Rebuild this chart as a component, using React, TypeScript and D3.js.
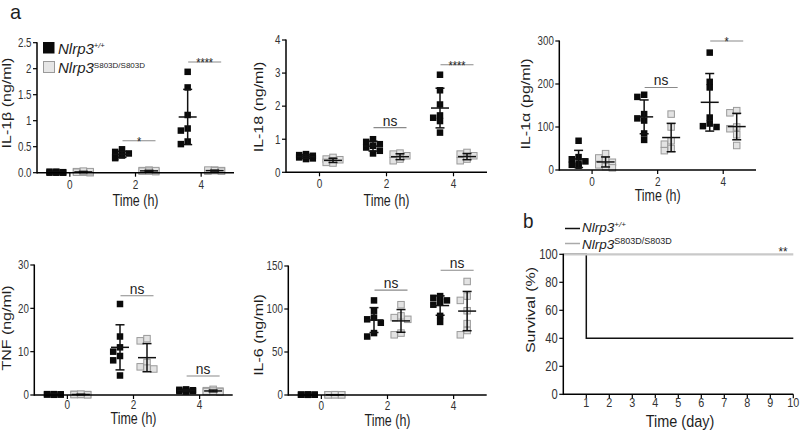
import React from "react";
import * as d3 from "d3";

// ---------- DATA ----------
const timeCats = ["0", "2", "4"];
const groups = ["wt", "ki"];

// IL-1β (ng/ml)
const il1bWt = [
  [0.0, 0.01, 0.02, 0.0, 0.01, 0.0, 0.02],
  [0.45, 0.4, 0.37, 0.35, 0.33, 0.3, 0.28],
  [1.94, 1.64, 1.11, 0.85, 0.81, 0.6, 0.55],
];
const il1bKi = [
  [0.02, 0.01, 0.0, 0.03, 0.01, 0.02],
  [0.05, 0.04, 0.03, 0.02, 0.04, 0.03],
  [0.05, 0.04, 0.03, 0.04, 0.05, 0.03],
];
const il1bTicks = [0, 0.5, 1, 1.5, 2, 2.5];
const il1bTickLabels = ["0.0", "0.5", "1", "1.5", "2", "2.5"];
const il1bSigCats = ["2", "4"];
const il1bSigLabels = ["*", "****"];
const il1bSigLevels = [0.615, 2.13];

// IL-18 (ng/ml)
const il18Wt = [
  [0.55, 0.52, 0.5, 0.48, 0.45, 0.42, 0.4],
  [1.0, 0.92, 0.85, 0.8, 0.75, 0.65, 0.57],
  [2.95, 2.48, 2.05, 1.72, 1.65, 1.55, 1.2],
];
const il18Ki = [
  [0.45, 0.4, 0.38, 0.35, 0.3, 0.28],
  [0.58, 0.55, 0.5, 0.45, 0.4, 0.35],
  [0.6, 0.55, 0.5, 0.45, 0.4, 0.35],
];
const il18Ticks = [0, 1, 2, 3, 4];
const il18TickLabels = ["0", "1", "2", "3", "4"];
const il18SigCats = ["2", "4"];
const il18SigLabels = ["ns", "****"];
const il18SigLevels = [1.35, 3.25];

// IL-1α (pg/ml)
const il1aWt = [
  [68, 30, 25, 20, 15, 12, 10],
  [175, 170, 130, 120, 115, 85, 70],
  [273, 205, 192, 122, 108, 102, 100],
];
const il1aKi = [
  [38, 28, 22, 18, 12, 8, 5],
  [130, 100, 68, 60, 50, 45],
  [138, 133, 100, 96, 82, 57],
];
const il1aTicks = [0, 100, 200, 300];
const il1aTickLabels = ["0", "100", "200", "300"];
const il1aSigCats = ["2", "4"];
const il1aSigLabels = ["ns", "*"];
const il1aSigLevels = [192, 300];

// TNF (ng/ml)
const tnfWt = [
  [0.2, 0.1, 0.15, 0.1, 0.05, 0.2, 0.1],
  [21, 13.5, 11, 10, 9, 8, 4.5],
  [1.3, 1.2, 1.1, 1.0, 0.9, 0.9, 0.8],
];
const tnfKi = [
  [0.1, 0.15, 0.05, 0.1, 0.2, 0.1],
  [13, 12.5, 7.5, 6.5, 6, 6.2],
  [1.3, 1.0, 0.9, 0.8, 0.7, 0.9],
];
const tnfTicks = [0, 10, 20, 30];
const tnfTickLabels = ["0", "10", "20", "30"];
const tnfSigCats = ["2", "4"];
const tnfSigLabels = ["ns", "ns"];
const tnfSigLevels = [22.9, 4.4];

// IL-6 (ng/ml)
const il6Wt = [
  [0.5, 0.3, 0.4, 0.2, 0.3, 0.4, 0.5],
  [110, 98, 90, 88, 84, 72, 68],
  [115, 113, 110, 108, 105, 92, 85],
];
const il6Ki = [
  [0.3, 0.2, 0.4, 0.3, 0.2, 0.3],
  [105, 92, 90, 88, 72, 70],
  [132, 115, 110, 98, 83, 75, 70],
];
const il6Ticks = [0, 50, 100, 150];
const il6TickLabels = ["0", "50", "100", "150"];
const il6SigCats = ["2", "4"];
const il6SigLabels = ["ns", "ns"];
const il6SigLevels = [122, 145];

// Survival
const survDays = [0, 1, 10];
const survWt = [100, 40, 40];
const survKi = [100, 100, 100];
const survYTicks = [0, 20, 40, 60, 80, 100];
const survXTicks = [1, 2, 3, 4, 5, 6, 7, 8, 9, 10];

// ---------- HELPERS ----------
const FONT = "'Liberation Sans', Arial, Helvetica, sans-serif";
const INK = "#1e1e1e";

type TP = {
  x: number; y: number; size: number; sx?: number; anchor?: string; rot?: boolean;
  fill?: string; italic?: boolean; children: React.ReactNode;
};
function Txt({ x, y, size, sx = 1, anchor = "middle", rot = false, fill = INK, italic = false, children }: TP) {
  const tr = rot
    ? `translate(${x},${y}) rotate(-90) scale(1,${sx})`
    : `translate(${x},${y}) scale(${sx},1)`;
  return (
    <text transform={tr} fontSize={size} fontFamily={FONT} textAnchor={anchor as any} fill={fill}
      fontStyle={italic ? "italic" : "normal"}>
      {children}
    </text>
  );
}

// deterministic compact swarm: limited horizontal spread, overlap allowed
function swarm(values: number[], y: (v: number) => number, m: number) {
  const idx = values.map((v, i) => i).sort((a, b) => values[b] - values[a]);
  const placed: { dx: number; py: number }[] = [];
  const out: { dx: number; py: number }[] = new Array(values.length);
  const step = 3.4;
  const th = m * 0.85;
  const cands = [0, -1, 1, -2, 2].map((k) => k * step);
  idx.forEach((i) => {
    const py = y(values[i]);
    let best = 0, bestCount = Infinity;
    for (const c of cands) {
      const n = placed.filter((p) => Math.abs(p.dx - c) < th && Math.abs(p.py - py) < th).length;
      if (n < bestCount) { bestCount = n; best = c; }
      if (n === 0) break;
    }
    const pt = { dx: best, py };
    placed.push(pt);
    out[i] = pt;
  });
  return out;
}

type PanelProps = {
  left: number; right: number; top: number; bottom: number;
  ticks: number[]; tickLabels: string[];
  wt: number[][]; ki: number[][];
  sigCats: string[]; sigLabels: string[]; sigLevels: number[];
  title: string; titleX: number; titleY: number;
  xLabY: number; xTitleY: number;
};

function ScatterPanel(p: PanelProps) {
  const yMax = p.ticks[p.ticks.length - 1];
  const y = d3.scaleLinear().domain([0, yMax]).range([p.bottom, p.top]);
  const x = d3.scaleBand().domain(timeCats).range([p.left, p.right]).padding(0);
  const gx = d3.scalePoint().domain(groups).range([-13.5, 13.5]);
  const cx = (c: string) => (x(c) as number) + x.bandwidth() / 2;
  const M = 6.5;
  const series = [
    { key: "wt", data: p.wt, fill: "#0a0a0a", stroke: "#0a0a0a" },
    { key: "ki", data: p.ki, fill: "#e3e3e3", stroke: "#9a9a9a" },
  ];
  return (
    <g>
      {series.map((s) =>
        s.data.map((vals, ci) => {
          const c = timeCats[ci];
          const gxc = cx(c) + (gx(s.key) as number);
          const pts = swarm(vals, y, M);
          const mean = d3.mean(vals) as number;
          const sd = d3.deviation(vals) as number;
          return (
            <g key={s.key + c}>
              {pts.map((pt, i) => (
                <rect key={i} x={gxc + pt.dx - M / 2} y={pt.py - M / 2} width={M} height={M}
                  fill={s.fill} stroke={s.stroke} strokeWidth={s.key === "ki" ? 1 : 0} />
              ))}
              <line x1={gxc} x2={gxc} y1={y(mean + sd)} y2={y(Math.max(0, mean - sd))} stroke="#111" strokeWidth={1.5} />
              <line x1={gxc - 4.5} x2={gxc + 4.5} y1={y(mean + sd)} y2={y(mean + sd)} stroke="#111" strokeWidth={1.5} />
              <line x1={gxc - 4.5} x2={gxc + 4.5} y1={y(Math.max(0, mean - sd))} y2={y(Math.max(0, mean - sd))} stroke="#111" strokeWidth={1.5} />
              <line x1={gxc - 9} x2={gxc + 9} y1={y(mean)} y2={y(mean)} stroke="#111" strokeWidth={1.5} />
            </g>
          );
        })
      )}
      {/* axes */}
      <line x1={p.left} x2={p.left} y1={p.top - 0.5} y2={p.bottom + 0.75} stroke="#000" strokeWidth={1.5} />
      <line x1={p.left} x2={p.right} y1={p.bottom} y2={p.bottom} stroke="#000" strokeWidth={1.5} />
      {p.ticks.map((t, i) => (
        <g key={i}>
          <line x1={p.left - 4} x2={p.left} y1={y(t)} y2={y(t)} stroke="#000" strokeWidth={1.2} />
          <Txt x={p.left - 5.5} y={y(t) + 4.3} size={12.5} sx={0.78} anchor="end" fill="#333">{p.tickLabels[i]}</Txt>
        </g>
      ))}
      {timeCats.map((c) => (
        <g key={c}>
          <line x1={cx(c)} x2={cx(c)} y1={p.bottom} y2={p.bottom + 4} stroke="#000" strokeWidth={1.2} />
          <Txt x={cx(c)} y={p.xLabY} size={12.5} sx={0.8} fill="#333">{c}</Txt>
        </g>
      ))}
      <Txt x={(p.left + p.right) / 2} y={p.xTitleY} size={16} sx={0.78}>Time (h)</Txt>
      <Txt x={p.titleX} y={p.titleY} size={16} sx={0.8} rot>{p.title}</Txt>
      {p.sigCats.map((c, i) => {
        const ly = y(p.sigLevels[i]);
        const isStar = p.sigLabels[i] !== "ns";
        return (
          <g key={c}>
            <line x1={cx(c) - 13} x2={cx(c) + 20} y1={ly} y2={ly} stroke="#8a8a8a" strokeWidth={1.1} />
            {isStar ? (
              <Txt x={cx(c) + 3.5} y={ly + 5} size={12} sx={0.9}>{p.sigLabels[i]}</Txt>
            ) : (
              <Txt x={cx(c) + 3.5} y={ly - 2} size={15} sx={0.92}>{p.sigLabels[i]}</Txt>
            )}
          </g>
        );
      })}
    </g>
  );
}

function SurvivalPanel() {
  const left = 563.3, right = 793.3, top = 254.3, bottom = 394.3;
  const x = d3.scaleLinear().domain([0, 10]).range([left, right]);
  const y = d3.scaleLinear().domain([0, 100]).range([bottom, top]);
  const line = d3.line<[number, number]>().x((d) => x(d[0])).y((d) => y(d[1])).curve(d3.curveStepAfter);
  const wtPts = survDays.map((d, i) => [d, survWt[i]] as [number, number]);
  const kiPts = survDays.map((d, i) => [d, survKi[i]] as [number, number]);
  return (
    <g>
      <path d={line(wtPts) as string} fill="none" stroke="#111" strokeWidth={1.5} />
      <path d={line(kiPts) as string} fill="none" stroke="#c9c9c9" strokeWidth={2.2} />
      <line x1={left} x2={left} y1={top - 0.5} y2={bottom + 0.75} stroke="#000" strokeWidth={1.5} />
      <line x1={left} x2={right} y1={bottom} y2={bottom} stroke="#000" strokeWidth={1.5} />
      {survYTicks.map((t) => (
        <g key={t}>
          <line x1={left - 4} x2={left} y1={y(t)} y2={y(t)} stroke="#000" strokeWidth={1.2} />
          <Txt x={left - 5.5} y={y(t) + 4.8} size={14} sx={0.8} anchor="end" fill="#333">{String(t)}</Txt>
        </g>
      ))}
      {survXTicks.map((t) => (
        <g key={t}>
          <line x1={x(t)} x2={x(t)} y1={bottom} y2={bottom + 4} stroke="#000" strokeWidth={1.2} />
          <Txt x={x(t)} y={bottom + 12.5} size={13.5} sx={0.8} fill="#333">{String(t)}</Txt>
        </g>
      ))}
      <Txt x={680} y={426.5} size={17} sx={0.85}>Time (day)</Txt>
      <Txt x={535} y={310} size={16} sx={0.85} rot>Survival (%)</Txt>
      <Txt x={783} y={256} size={13} sx={0.9}>**</Txt>
      {/* legend */}
      <line x1={565} x2={580} y1={228.5} y2={228.5} stroke="#111" strokeWidth={1.5} />
      <line x1={565} x2={580} y1={243.5} y2={243.5} stroke="#aaa" strokeWidth={1.5} />
      <text x={582} y={232.3} fontFamily={FONT} fontSize={13.5} fontStyle="italic" fill={INK}>
        Nlrp3<tspan fontSize={8} dy={-5}>+/+</tspan>
      </text>
      <text x={582} y={248.5} fontFamily={FONT} fontSize={13.5} fontStyle="italic" fill={INK}>
        Nlrp3<tspan fontSize={9} dy={-4.3} fontStyle="normal">S803D/S803D</tspan>
      </text>
      <Txt x={523} y={228} size={21} sx={0.9} anchor="start">b</Txt>
    </g>
  );
}

export default function App() {
  return (
    <svg width={800} height={430} style={{ position: "absolute", left: 0, top: 0, background: "#fff" }}>
      <rect width={800} height={430} fill="#fff" />
      <Txt x={10} y={18.5} size={21} sx={0.95} anchor="start">a</Txt>
      <ScatterPanel left={37} right={234} top={42.7} bottom={172.7} ticks={il1bTicks} tickLabels={il1bTickLabels}
        wt={il1bWt} ki={il1bKi} sigCats={il1bSigCats} sigLabels={il1bSigLabels} sigLevels={il1bSigLevels}
        title="IL-1β (ng/ml)" titleX={11} titleY={103} xLabY={189} xTitleY={206} />
      <ScatterPanel left={286} right={487} top={40} bottom={172.3} ticks={il18Ticks} tickLabels={il18TickLabels}
        wt={il18Wt} ki={il18Ki} sigCats={il18SigCats} sigLabels={il18SigLabels} sigLevels={il18SigLevels}
        title="IL-18 (ng/ml)" titleX={263} titleY={107} xLabY={188} xTitleY={206} />
      <ScatterPanel left={559.3} right={756} top={41} bottom={170} ticks={il1aTicks} tickLabels={il1aTickLabels}
        wt={il1aWt} ki={il1aKi} sigCats={il1aSigCats} sigLabels={il1aSigLabels} sigLevels={il1aSigLevels}
        title="IL-1α (pg/ml)" titleX={530} titleY={104} xLabY={185.5} xTitleY={201} />
      <ScatterPanel left={34.3} right={232.7} top={265} bottom={395} ticks={tnfTicks} tickLabels={tnfTickLabels}
        wt={tnfWt} ki={tnfKi} sigCats={tnfSigCats} sigLabels={tnfSigLabels} sigLevels={tnfSigLevels}
        title="TNF (ng/ml)" titleX={11} titleY={328} xLabY={408.5} xTitleY={424} />
      <ScatterPanel left={288.3} right={486.7} top={266} bottom={395} ticks={il6Ticks} tickLabels={il6TickLabels}
        wt={il6Wt} ki={il6Ki} sigCats={il6SigCats} sigLabels={il6SigLabels} sigLevels={il6SigLevels}
        title="IL-6 (ng/ml)" titleX={263} titleY={335} xLabY={410} xTitleY={426} />
      <SurvivalPanel />
      {/* legend panel a */}
      <rect x={43} y={42} width={11.5} height={11.5} fill="#0a0a0a" />
      <rect x={43.5} y={61.5} width={11} height={11} fill="#e6e6e6" stroke="#9a9a9a" strokeWidth={1} />
      <text x={58} y={53.5} fontFamily={FONT} fontSize={15} fontStyle="italic" fill={INK}>
        Nlrp3<tspan fontSize={7.5} dy={-5.5}>+/+</tspan>
      </text>
      <text x={58} y={72.5} fontFamily={FONT} fontSize={15} fontStyle="italic" fill={INK}>
        Nlrp3<tspan fontSize={8} dy={-4.5} fontStyle="normal">S803D/S803D</tspan>
      </text>
    </svg>
  );
}
